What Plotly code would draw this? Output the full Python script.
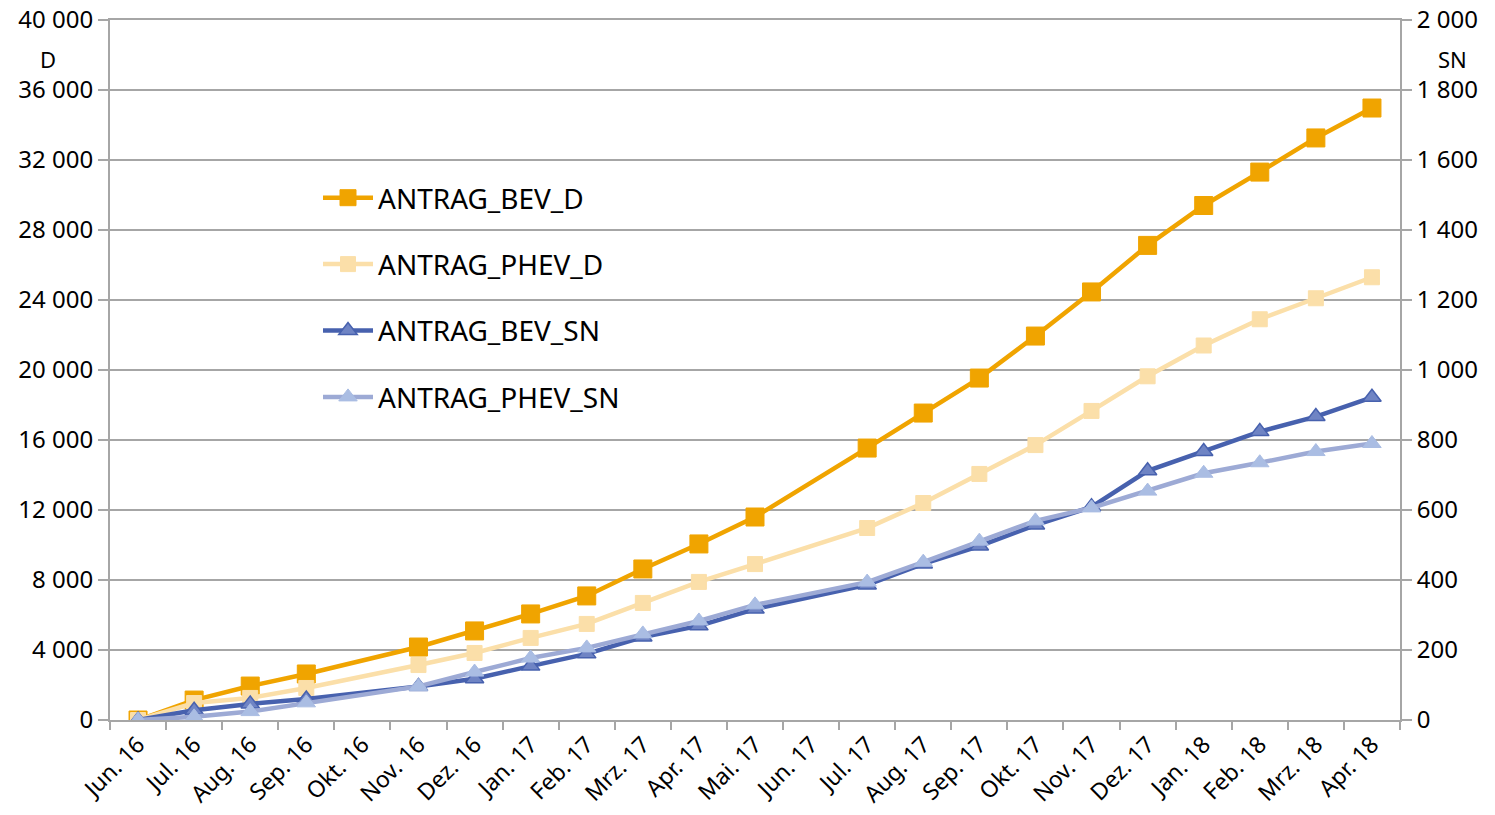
import plotly.graph_objects as go

categories = ["Jun. 16", "Jul. 16", "Aug. 16", "Sep. 16", "Okt. 16", "Nov. 16", "Dez. 16",
              "Jan. 17", "Feb. 17", "Mrz. 17", "Apr. 17", "Mai. 17", "Jun. 17", "Jul. 17",
              "Aug. 17", "Sep. 17", "Okt. 17", "Nov. 17", "Dez. 17", "Jan. 18", "Feb. 18",
              "Mrz. 18", "Apr. 18"]

antrag_bev_d = [0, 1140, 1940, 2630, None, 4170, 5090, 6060, 7090, 8630, 10060, 11600, None,
                15540, 17540, 19540, 21940, 24460, 27120, 29400, 31310, 33260, 34970]
antrag_phev_d = [0, 970, 1260, 1830, None, 3140, 3830, 4690, 5490, 6690, 7890, 8910, None,
                 10970, 12400, 14060, 15710, 17660, 19640, 21400, 22900, 24100, 25300]
antrag_bev_sn = [0, 28, 46, 60, None, 96, 118, 154, 189, 237, 269, 317, None,
                 386, 446, 497, 557, 609, 712, 767, 824, 867, 922]
antrag_phev_sn = [0, 9, 24, 49, None, 96, 137, 177, 206, 246, 283, 329, None,
                  394, 451, 511, 569, 606, 654, 705, 735, 767, 790]

FONT = "Noto Sans"
GRID = "#A6A6A6"

# page offset (browser body margin)
OFF = 8
W, H = 1495 - OFF, 815 - OFF
ML, MR, MT, MB = 110 - OFF, 95, 20 - OFF, 95

fig = go.Figure()

fig.add_trace(go.Scatter(
    x=categories, y=antrag_bev_d, name="ANTRAG_BEV_D", mode="lines+markers",
    connectgaps=True, legendgroup="a",
    line=dict(color="#F0A400", width=4.5),
    marker=dict(symbol="square", size=18, color="#F0A400", line=dict(color="#F0A400", width=1)),
))
fig.add_trace(go.Scatter(
    x=categories, y=antrag_phev_d, name="ANTRAG_PHEV_D", mode="lines+markers",
    connectgaps=True, legendgroup="b",
    line=dict(color="#FBDFA9", width=4.5),
    marker=dict(symbol="square", size=15, color="#FBDFA9", line=dict(color="#FBDFA9", width=1)),
))
fig.add_trace(go.Scatter(
    x=categories, y=antrag_bev_sn, name="ANTRAG_BEV_SN", mode="lines+markers",
    connectgaps=True, legendgroup="c", yaxis="y2",
    line=dict(color="#4761AE", width=4.5),
    marker=dict(symbol="triangle-up", size=16, color="#6F84C4", line=dict(color="#4761AE", width=1.5)),
))
fig.add_trace(go.Scatter(
    x=categories, y=antrag_phev_sn, name="ANTRAG_PHEV_SN", mode="lines+markers",
    connectgaps=True, legendgroup="d", yaxis="y2",
    line=dict(color="#9DAAD5", width=4.5),
    marker=dict(symbol="triangle-up", size=16, color="#AABDE3", line=dict(color="#AABDE3", width=1)),
))

plot_w = W - ML - MR
plot_h = H - MT - MB


def px_to_paper(px, py):
    return ((px - OFF) - ML) / plot_w, (H - MB - (py - OFF)) / plot_h


dx, dy = px_to_paper(48, 59)
sx, sy = px_to_paper(1453, 59)
lx, ly = px_to_paper(318, 173)

fig.update_layout(
    width=W, height=H,
    margin=dict(l=ML, r=MR, t=MT, b=MB, autoexpand=False),
    paper_bgcolor="white", plot_bgcolor="white",
    separators=", ",
    font=dict(family=FONT, size=24, color="black"),
    showlegend=True,
    legend=dict(
        x=lx, y=ly, xanchor="left", yanchor="top",
        bgcolor="rgba(0,0,0,0)", font=dict(family=FONT, size=28, color="black"),
        tracegroupgap=27, traceorder="grouped", itemwidth=50,
    ),
    xaxis=dict(
        type="category", range=[-0.5, 22.5], automargin=False,
        tickangle=-45, tickfont=dict(family=FONT, size=23),
        showgrid=False, showline=True, mirror=True, linecolor=GRID, linewidth=2,
        ticks="outside", tickson="boundaries", ticklen=8, tickcolor=GRID, tickwidth=2,
    ),
    yaxis=dict(
        range=[0, 40000], dtick=4000, tickformat=",d", automargin=False,
        ticklabeloverflow="allow",
        showgrid=True, gridcolor=GRID, gridwidth=2, zeroline=False,
        showline=True, linecolor=GRID, linewidth=2,
        ticks="outside", ticklen=10, tickcolor=GRID, tickwidth=2,
        tickfont=dict(family=FONT, size=24),
    ),
    yaxis2=dict(
        range=[0, 2000], dtick=200, tickformat=",d", overlaying="y", side="right",
        automargin=False, ticklabeloverflow="allow", showgrid=False, zeroline=False,
        showline=True, linecolor=GRID, linewidth=2,
        ticks="outside", ticklen=10, tickcolor=GRID, tickwidth=2,
        tickfont=dict(family=FONT, size=24),
    ),
    annotations=[
        dict(text="D", x=dx, y=dy, xref="paper", yref="paper", showarrow=False,
             xanchor="center", yanchor="middle", font=dict(family=FONT, size=22)),
        dict(text="SN", x=sx, y=sy, xref="paper", yref="paper", showarrow=False,
             xanchor="center", yanchor="middle", font=dict(family=FONT, size=22)),
    ],
)

fig.write_html("out.html")
